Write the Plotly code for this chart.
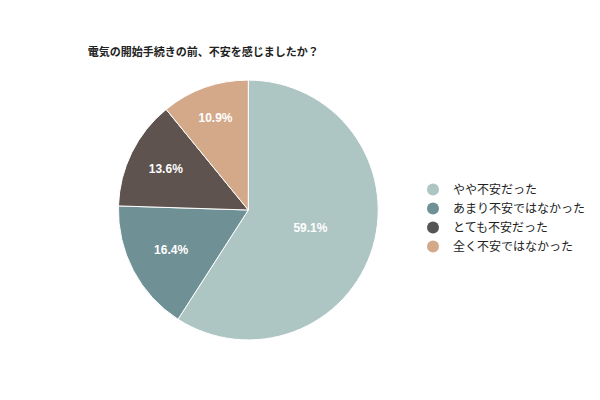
import plotly.graph_objects as go

labels = ["やや不安だった", "あまり不安ではなかった", "とても不安だった", "全く不安ではなかった"]
values = [59.1, 16.4, 13.6, 10.9]
colors = ["#adc5c3", "#6f9095", "#5f5350", "#d4a98a"]
legend_colors = ["#adc5c3", "#6f9095", "#555555", "#d4a98a"]

fig = go.Figure()
fig.add_trace(go.Pie(
    labels=labels, values=values, sort=False, direction="clockwise", rotation=0,
    marker=dict(colors=colors, line=dict(color="white", width=1)),
    texttemplate="<b>%{value}%</b>", textposition="inside",
    textfont=dict(color="white", size=12, family="Liberation Sans, Arial"),
    insidetextorientation="horizontal",
    showlegend=False, domain=dict(x=[0.184, 0.617], y=[0.17, 0.82]),
))
for l, c in zip(labels, legend_colors):
    fig.add_trace(go.Scatter(x=[None], y=[None], mode="markers", name=l,
                             marker=dict(symbol="circle", size=11, color=c)))
fig.update_layout(
    width=600, height=400, margin=dict(l=0, r=0, t=0, b=0),
    paper_bgcolor="white", plot_bgcolor="white",
    xaxis=dict(visible=False), yaxis=dict(visible=False),
    title=dict(text="<b>電気の開始手続きの前、不安を感じましたか？</b>", x=0.133, xanchor="left", y=0.89, yanchor="middle",
               font=dict(size=11, color="#222", family="Noto Sans CJK JP")),
    legend=dict(x=0.675, y=0.475, xanchor="left", yanchor="middle", tracegroupgap=0,
                font=dict(size=12, color="#222", family="Noto Sans CJK JP"), itemsizing="constant"),
)
fig.write_html("out.html")
